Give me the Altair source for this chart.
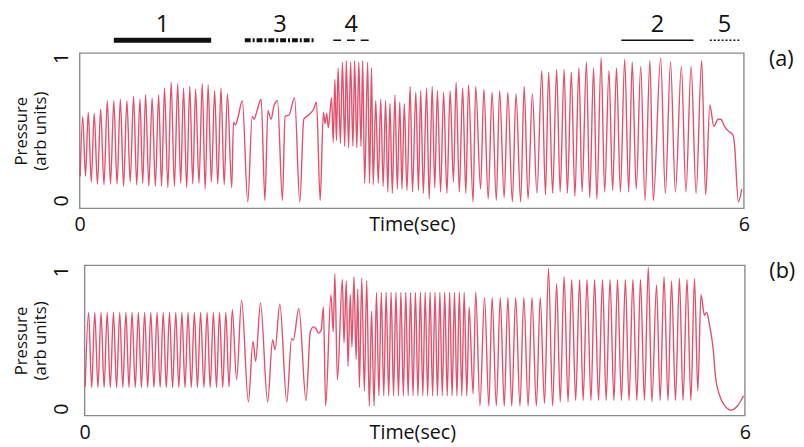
import altair as alt
import pandas as pd

# ---------------- data (time in s, pressure in arb. units) ----------------
a_regular = [(0.004,0.17),(0.027,0.59),(0.052,0.17),(0.077,0.62),(0.104,0.13),(0.131,0.61),(0.160,0.115),
    (0.189,0.64),(0.219,0.11),(0.249,0.70),(0.278,0.115),(0.308,0.70),(0.337,0.115),(0.367,0.71),(0.396,0.10),
    (0.426,0.70),(0.456,0.13),(0.486,0.73),(0.515,0.11),(0.544,0.71),(0.569,0.12),(0.595,0.74),(0.624,0.10),
    (0.654,0.72),(0.683,0.10),(0.713,0.74),(0.739,0.10),(0.766,0.79),(0.796,0.09),(0.826,0.83),(0.855,0.10),
    (0.885,0.82),(0.912,0.12),(0.938,0.79),(0.966,0.09),(0.994,0.80),(1.021,0.115),(1.047,0.78),(1.077,0.12),
    (1.107,0.82),(1.133,0.08),(1.160,0.81),(1.189,0.13),(1.219,0.77),(1.247,0.115),(1.276,0.79),(1.305,0.11),
    (1.334,0.75),(1.373,0.09)]
a_irregular = [(1.389,0.55),(1.407,0.53),(1.429,0.58),(1.469,0.70),(1.518,-0.01),(1.558,0.59),(1.576,0.57),
    (1.598,0.62),(1.639,0.71),(1.673,0.0),(1.700,0.63),(1.728,0.57),(1.757,0.67),(1.787,0.70),(1.831,0.0),
    (1.855,0.59),(1.891,0.60),(1.941,0.72),(1.988,-0.01),(2.024,0.57),(2.068,0.60),(2.112,0.64),(2.139,0.69),
    (2.172,0.0)]
a_burst = [(2.201,0.62),(2.216,0.54),(2.231,0.61),(2.246,0.51),(2.275,0.72),(2.290,0.41),(2.305,0.85),
    (2.319,0.42),(2.334,0.93),(2.355,0.40),(2.373,0.97),(2.394,0.38),(2.408,0.98),(2.429,0.37),(2.447,0.97),
    (2.468,0.38),(2.483,0.98),(2.503,0.37),(2.521,0.97),(2.541,0.38),(2.556,0.98),(2.574,0.12),(2.601,0.97),
    (2.618,0.12),(2.636,0.93),(2.651,0.11)]
a_fast = [(2.674,0.70),(2.697,0.12),(2.719,0.71),(2.741,0.10),(2.763,0.70),(2.783,0.06),(2.802,0.68),(2.824,0.05),
    (2.847,0.74),(2.869,0.08),(2.891,0.69),(2.911,0.08),(2.932,0.68),(2.956,0.07),(2.985,0.80),(3.006,0.06),
    (3.036,0.76),(3.060,0.07),(3.080,0.77),(3.104,0.05),(3.133,0.79),(3.157,0.01),(3.184,0.80),(3.207,0.09),
    (3.231,0.77),(3.260,0.06),(3.287,0.76),(3.317,0.05),(3.346,0.77),(3.376,0.13),(3.400,0.83),(3.429,0.06),
    (3.459,0.79),(3.488,0.05),(3.512,0.81),(3.553,-0.01),(3.577,0.80),(3.621,0.08),(3.651,0.78),(3.690,0.01),
    (3.725,0.76),(3.763,0.0),(3.793,0.77),(3.834,0.02),(3.867,0.76),(3.908,-0.01),(3.941,0.75),(3.983,-0.01),
    (4.015,0.80),(4.050,0.01),(4.089,0.75),(4.130,0.05)]
a_strong = [(4.174,0.91),(4.207,0.04),(4.236,0.90),(4.272,0.05),(4.308,0.92),(4.340,0.06),(4.376,0.92),
    (4.405,0.05),(4.441,0.90),(4.473,0.03),(4.509,0.93),(4.538,0.06),(4.577,0.97),(4.607,0.02),(4.642,0.93),
    (4.671,0.01),(4.710,1.00),(4.742,0.06),(4.781,0.91),(4.814,0.07),(4.849,0.93),(4.884,0.06),(4.923,0.99),
    (4.959,0.06),(4.991,0.97),(5.027,0.08),(5.068,0.94),(5.106,0.00),(5.151,0.98),(5.181,0.00),(5.248,1.00),
    (5.290,0.05),(5.337,0.97),(5.381,0.06),(5.435,0.94),(5.476,0.06),(5.523,0.94),(5.568,0.05),(5.618,0.98),
    (5.654,0.04)]
a_tail = [(5.692,0.67),(5.728,0.52),(5.767,0.57),(5.790,0.57),(5.825,0.52),(5.855,0.49),(5.900,0.46),
    (5.914,0.40),(5.950,-0.01),(5.980,0.08)]

b_regular = [(0.005,0.16),(0.036,0.70),(0.064,0.155),(0.092,0.70),(0.121,0.155),(0.149,0.70),(0.177,0.155),
    (0.205,0.70),(0.233,0.155),(0.262,0.70),(0.290,0.155),(0.319,0.70),(0.347,0.155),(0.375,0.70),(0.403,0.155),
    (0.431,0.70),(0.460,0.155),(0.488,0.70),(0.516,0.155),(0.545,0.70),(0.573,0.155),(0.601,0.70),(0.630,0.155),
    (0.658,0.70),(0.686,0.155),(0.714,0.70),(0.742,0.155),(0.771,0.70),(0.799,0.155),(0.828,0.70),(0.856,0.155),
    (0.884,0.70),(0.912,0.155),(0.940,0.70),(0.969,0.155),(0.997,0.70),(1.025,0.155),(1.054,0.70),(1.084,0.155),
    (1.113,0.70),(1.141,0.155),(1.170,0.70),(1.198,0.155),(1.226,0.70),(1.255,0.155),(1.283,0.70),(1.312,0.16),
    (1.342,0.72),(1.381,0.21),(1.426,0.79),(1.488,0.05)]
b_irregular = [(1.530,0.49),(1.554,0.345),(1.598,0.77),(1.663,0.05),(1.708,0.50),(1.730,0.43),(1.774,0.76),
    (1.837,0.05),(1.881,0.51),(1.896,0.50),(1.947,0.73),(2.012,0.06),(2.051,0.56),(2.080,0.595),(2.105,0.58),
    (2.125,0.55),(2.149,0.57),(2.170,0.74),(2.190,0.02)]
b_burst = [(2.238,0.83),(2.259,0.56),(2.274,0.98),(2.297,0.21),(2.342,0.94),(2.357,0.48),(2.378,0.93),
    (2.393,0.31),(2.414,0.83),(2.429,0.45),(2.447,0.96),(2.467,0.36),(2.482,0.87),(2.497,0.155),(2.518,0.95),
    (2.542,0.13),(2.563,0.93),(2.587,0.02),(2.607,0.71),(2.630,0.02)]
b_fast = [(2.652,0.845),(2.674,0.095),(2.696,0.845),(2.718,0.095),(2.740,0.845),(2.763,0.095),(2.785,0.845),
    (2.807,0.095),(2.829,0.845),(2.852,0.095),(2.874,0.845),(2.896,0.095),(2.918,0.845),(2.940,0.095),
    (2.962,0.845),(2.984,0.095),(3.006,0.845),(3.029,0.095),(3.051,0.845),(3.073,0.095),(3.095,0.845),
    (3.117,0.095),(3.139,0.845),(3.162,0.095),(3.184,0.845),(3.206,0.095),(3.228,0.845),(3.250,0.095),
    (3.272,0.845),(3.295,0.095),(3.317,0.845),(3.339,0.095),(3.361,0.845),(3.383,0.095),(3.405,0.845),
    (3.427,0.095),(3.449,0.845),(3.473,0.095),(3.494,0.74),(3.530,0.11),(3.554,0.85),(3.592,0.02)]
b_slow = [(3.634,0.81),(3.673,0.02),(3.703,0.81),(3.741,0.02),(3.777,0.81),(3.813,0.02),(3.846,0.81),
    (3.881,0.02),(3.917,0.81),(3.956,0.02),(3.991,0.81),(4.030,0.02),(4.065,0.81),(4.105,0.02),(4.140,0.81),
    (4.179,0.04),(4.215,1.02),(4.253,0.02),(4.289,0.91),(4.322,0.05),(4.357,0.96),(4.393,0.05),(4.426,0.94),
    (4.462,0.06),(4.498,0.94),(4.530,0.06),(4.565,0.94),(4.601,0.06),(4.634,0.94),(4.670,0.06),(4.706,0.94),
    (4.739,0.06),(4.774,0.94),(4.810,0.06),(4.842,0.94),(4.878,0.06),(4.914,0.94),(4.947,0.06),(4.982,0.94),
    (5.018,0.06),(5.051,0.94),(5.087,0.06),(5.122,1.03),(5.155,0.05),(5.197,0.90),(5.230,0.06),(5.265,0.96),
    (5.301,0.06),(5.333,0.93),(5.369,0.06),(5.405,0.95),(5.438,0.06),(5.474,0.94),(5.509,0.06),(5.542,0.945),
    (5.572,0.13)]
b_tail = [(5.601,0.83),(5.632,0.68),(5.652,0.70),(5.682,0.595),(5.712,0.43),(5.732,0.24),(5.771,0.095),
    (5.815,0.024),(5.875,-0.01),(5.935,0.024),(5.988,0.095)]

ann_labels = ["1", "3", "4", "2", "5"]
ann_start = [0.308, 1.491, 2.290, 4.893, 5.692]
ann_end = [1.187, 2.127, 2.616, 5.545, 5.958]

x_tick_values = [0, 6]
y_tick_values = [0, 1]
panel_tags = ["(a)", "(b)"]

# ---------------- styling ----------------
FONT = "Open Sans"
RED = "#e2506b"
BOX = "#8a8a8a"

ann_styles = {
    "1": dict(strokeWidth=5),
    "3": dict(strokeWidth=4, strokeDash=[6, 2, 2, 2]),
    "4": dict(strokeWidth=1.5, strokeDash=[8, 6]),
    "2": dict(strokeWidth=1.6),
    "5": dict(strokeWidth=1.5, strokeDash=[2, 2]),
}


def make_panel(points, width, height, xdom, ydom, tag, annotate):
    df = pd.DataFrame(points, columns=["t", "p"])
    xaxis = alt.Axis(values=x_tick_values, labelAngle=0, labelFlush=False, labelFontSize=20,
                     labelBaseline="alphabetic", labelPadding=23, ticks=False, tickSize=0, domain=False,
                     grid=False, titleFontSize=20, titleFontWeight="normal", titleY=23,
                     titleBaseline="alphabetic", format="d")
    xscale = alt.Scale(domain=xdom, nice=False, zero=False)

    def xenc(field):
        return alt.X(field, type="quantitative", scale=xscale, axis=xaxis, title="Time(sec)")

    yaxis = alt.Axis(values=y_tick_values, labelAngle=270, labelAlign="center", labelBaseline="bottom",
                     labelFontSize=20, labelPadding=8, ticks=False, tickSize=0, domain=False, grid=False,
                     title=["Pressure", "(arb units)"], titleFontSize=17, titleFontWeight="normal",
                     titlePadding=3, titleLineHeight=19, format="d")

    line = alt.Chart(df).mark_line(color=RED, strokeWidth=1.4, interpolate="monotone").encode(
        x=xenc("t"),
        y=alt.Y("p:Q", scale=alt.Scale(domain=ydom, nice=False, zero=False), axis=yaxis),
    )
    frame_df = pd.DataFrame({"t": [x_tick_values[0]], "t2": [x_tick_values[1]], "tag": [tag]})
    frame = alt.Chart(frame_df).mark_rect(fillOpacity=0, stroke=BOX, strokeWidth=1.4).encode(
        x=xenc("t"), x2="t2", y=alt.value(0), y2=alt.value(height)
    )
    tag_text = alt.Chart(frame_df).mark_text(font=FONT, fontSize=22, align="center", baseline="middle",
                                             color="#111").encode(
        x=alt.value(width + 38), y=alt.value(6), text="tag:N"
    )
    layers = [frame, line, tag_text]
    if annotate:
        for lab, s, e in zip(ann_labels, ann_start, ann_end):
            adf = pd.DataFrame({"start": [s], "end": [e], "mid": [(s + e) / 2], "label": [lab]})
            rule = alt.Chart(adf).mark_rule(color="#111", **ann_styles[lab]).encode(
                x=xenc("start"), x2="end", y=alt.value(-13)
            )
            txt = alt.Chart(adf).mark_text(font=FONT, fontSize=24, align="center", baseline="alphabetic",
                                           color="#111").encode(
                x=xenc("mid"), y=alt.value(-21), text="label:N"
            )
            layers += [rule, txt]
    return alt.layer(*layers).properties(width=width, height=height)


panel_a = make_panel(a_regular + a_irregular + a_burst + a_fast + a_strong + a_tail,
                     676, 158, [0, 6], [-0.055, 1.034], panel_tags[0], True)
panel_b = make_panel(b_regular + b_irregular + b_burst + b_fast + b_slow + b_tail,
                     677, 153, [-0.0446, 6], [-0.05, 1.043], panel_tags[1], False)

chart = alt.vconcat(panel_a, panel_b, spacing=26).properties(
    padding={"left": 5, "top": 2, "right": 0, "bottom": 0}
).configure_view(stroke=None).configure_axis(
    labelFont=FONT, titleFont=FONT, labelColor="#111", titleColor="#111"
).configure_text(font=FONT)

chart.save("out.html", embed_options={"renderer": "svg", "actions": False})
